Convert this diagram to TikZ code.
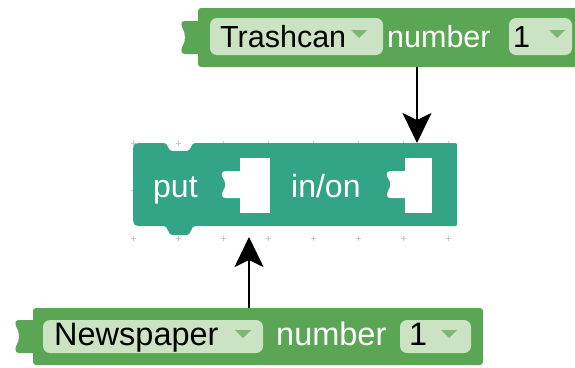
\documentclass[tikz,border=0pt]{standalone}
\usepackage{fontspec}
\setmainfont{Liberation Sans}
\usepackage{tikz}
\usetikzlibrary{arrows.meta,positioning,calc}
\definecolor{valuegreen}{RGB}{91,166,84}
\definecolor{fieldgreen}{RGB}{203,227,195}
\definecolor{dropgreen}{RGB}{125,184,115}
\definecolor{puzzleteal}{RGB}{52,164,134}
\definecolor{gridgray}{RGB}{200,200,200}
\tikzset{
  blocktext/.style={anchor=base west, inner sep=0pt, font=\fontsize{#1}{#1}\selectfont},
  blocktext/.default=31,
  fieldbox/.style={fill=fieldgreen, rounded corners=7pt},
  dropmark/.style={fill=dropgreen},
  gridmark/.style={draw=gridgray, line width=1pt},
  linkarrow/.style={draw=black, line width=2.6pt, -{Stealth[length=30pt,width=29pt,inset=7pt]}},
}
\newcommand{\dropdowntri}[1]{\fill[dropmark] ($#1+(-8,-4)$) -- ($#1+(8,-4)$) -- ($#1+(0,4)$) -- cycle;}
\begin{document}
\begin{tikzpicture}[x=1pt, y=-1pt]
        \useasboundingbox (0,0) rectangle (575,367);
        \foreach \gx in {0,...,7}
          \foreach \gy in {143,190.5,238}
            \draw[gridmark] (133+45*\gx-2.5,\gy) -- ++(5,0) (133+45*\gx,\gy-2.5) -- ++(0,5);

        \fill[puzzleteal] (133,155) .. controls (133,143) .. (145,143) -- (164,143)
          .. controls (168,143) and (168,151) .. (172,151) -- (187,151)
          .. controls (191,151) and (191,143) .. (195,143) -- (453,143)
          .. controls (457,143) .. (457,147) -- (457,222) .. controls (457,226) .. (453,226)
          -- (195,226) .. controls (191,226) and (191,235) .. (187,235) -- (172,235)
          .. controls (168,235) and (168,226) .. (164,226) -- (145,226)
          .. controls (133,226) .. (133,214) -- cycle;
        \fill[white] (240,158) rectangle (270,213);
        \fill[white] (241,171) -- (226,171) .. controls (221,171) and (221,175) .. (223,178)
          .. controls (226,182) and (226,187) .. (223,191) .. controls (221,195) and (222,198) .. (226,198) -- (241,198) -- cycle;
        \fill[white] (405,158) rectangle (432,213);
        \fill[white] (406,171) -- (391,171) .. controls (386,171) and (386,175) .. (388,178)
          .. controls (391,182) and (391,187) .. (388,191) .. controls (386,195) and (387,198) .. (391,198) -- (406,198) -- cycle;
        \node(put) [blocktext=32, text=white] at (153,197) {put};
        \node(inon) [blocktext=32, text=white] at (291,197) {in/on};

        \fill[valuegreen, rounded corners=3pt] (198,8) rectangle (580,67);
        \fill[valuegreen] (199,21) -- (185,21) .. controls (181,21) and (181,24) .. (182,27)
          .. controls (186,33) and (186,42) .. (182,47) .. controls (181,50) and (181,54) .. (185,54) -- (199,54) -- cycle;
        \fill[fieldbox] (210,18) rectangle (383,55);
        \node(trashcan) [blocktext=30.5] at (220,47) {Trashcan};
        \dropdowntri{(359,34)}
        \node(trashnumber) [blocktext=30.5, text=white] at (387,47) {number};
        \fill[fieldbox] (509,18) rectangle (572,55);
        \node(trashcount) [blocktext=30.5] at (513,47) {1};
        \dropdowntri{(557,34)}

        \fill[valuegreen, rounded corners=3pt] (33,308) rectangle (483,365);
        \fill[valuegreen] (34,320) -- (19,320) .. controls (15,320) and (15,323) .. (16,326)
          .. controls (20,332) and (20,341) .. (16,346) .. controls (15,349) and (15,353) .. (19,353) -- (34,353) -- cycle;
        \fill[fieldbox] (43,320) rectangle (263,353);
        \node(newspaper) [blocktext=32.5] at (54,345) {Newspaper};
        \dropdowntri{(243,334)}
        \node(newsnumber) [blocktext=32.5, text=white] at (276,345) {number};
        \fill[fieldbox] (400,320) rectangle (471,353);
        \node(newscount) [blocktext=32.5] at (409,345) {1};
        \dropdowntri{(449,334)}

        \coordinate (trashcanout) at (417,67);
        \coordinate (targetslot) at (417,143);
        \draw[linkarrow] (trashcanout) -- (targetslot);
        \coordinate (newspaperout) at (249,308);
        \coordinate (itemslot) at (249,237);
        \draw[linkarrow] (newspaperout) -- (itemslot);
    \end{tikzpicture}
\end{document}
